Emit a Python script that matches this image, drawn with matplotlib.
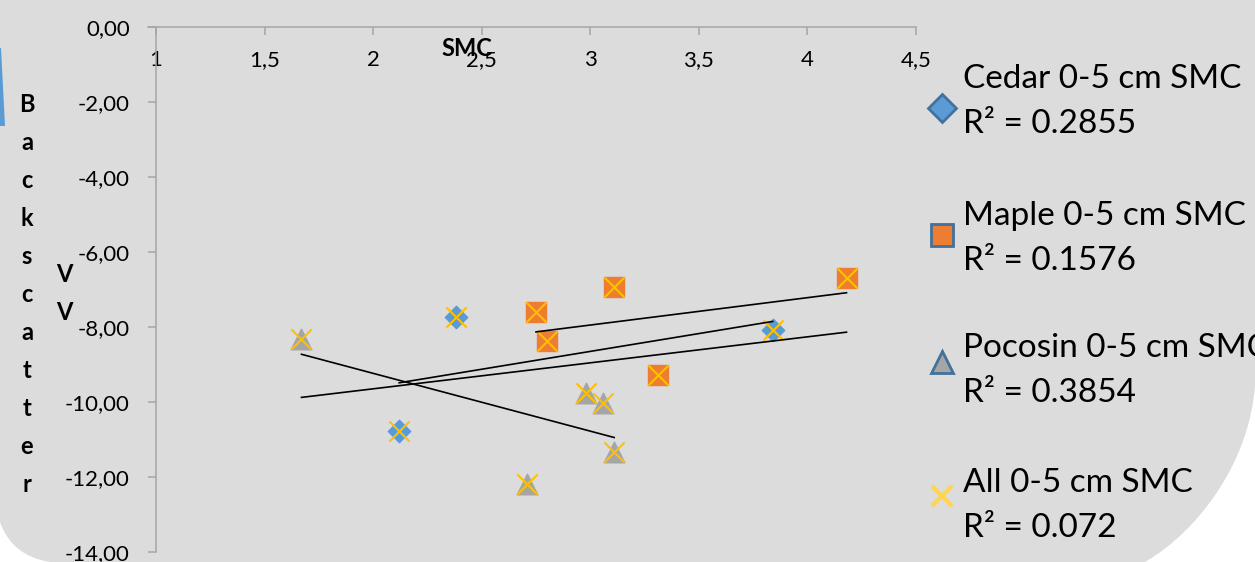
"""
Backscatter VV vs. 0-5 cm SMC scatter with linear trendlines per site.
"""

import numpy as np
import matplotlib
matplotlib.use('Agg')
import matplotlib.pyplot as plt
from matplotlib.path import Path
from matplotlib.patches import PathPatch, Polygon
from matplotlib.lines import Line2D

plt.rcParams['font.family'] = ['Lato', 'DejaVu Sans']

# --- data -------------------------------------------------------------
cedar_smc = [2.12, 2.38, 3.84]
cedar_vv = [-10.77, -7.73, -8.08]

maple_smc = [2.75, 2.80, 3.11, 3.31, 4.18]
maple_vv = [-7.61, -8.37, -6.94, -9.28, -6.70]

pocosin_smc = [1.67, 2.71, 2.98, 3.06, 3.11]
pocosin_vv = [-8.33, -12.19, -9.75, -10.02, -11.33]

legend_names = ['Cedar 0-5 cm SMC', 'Maple 0-5 cm SMC',
                'Pocosin 0-5 cm SMC', 'All 0-5 cm SMC']
legend_r2 = ['0.2855', '0.1576', '0.3854', '0.072']

xticks = [1, 1.5, 2, 2.5, 3, 3.5, 4, 4.5]
xtick_labels = ['1', '1,5', '2', '2,5', '3', '3,5', '4', '4,5']
yticks = [0, -2, -4, -6, -8, -10, -12, -14]
ytick_labels = ['0,00', '-2,00', '-4,00', '-6,00', '-8,00', '-10,00', '-12,00', '-14,00']

all_smc = cedar_smc + maple_smc + pocosin_smc
all_vv = cedar_vv + maple_vv + pocosin_vv

# --- figure -----------------------------------------------------------
W, H = 1255, 562
fig = plt.figure(figsize=(W / 100, H / 100), dpi=100, facecolor='white')


def px(x, y):
    """pixel (from top-left) -> figure fraction"""
    return (x / W, 1 - y / H)


# grey backdrop with rounded lower corners
bg_verts = [px(0, 0), px(W, 0), px(W, 385),
            px(1250, 460), px(1200, 530), px(1145, H),
            px(50, H),
            px(25, 558), px(8, 545), px(0, 522),
            px(0, 0)]
bg_codes = [Path.MOVETO, Path.LINETO, Path.LINETO,
            Path.CURVE4, Path.CURVE4, Path.CURVE4,
            Path.LINETO,
            Path.CURVE4, Path.CURVE4, Path.CURVE4,
            Path.CLOSEPOLY]
fig.add_artist(PathPatch(Path(bg_verts, bg_codes), transform=fig.transFigure,
                         facecolor='#dcdcdc', edgecolor='none', zorder=0))
# blue sliver at the left edge
fig.add_artist(Polygon([px(0, 48), px(1, 48), px(5, 126), px(0, 126)],
                       closed=True, transform=fig.transFigure,
                       facecolor='#5b9bd5', edgecolor='none', zorder=1))

ax = fig.add_axes([156 / W, 10 / H, 760 / W, 525 / H])
ax.set_facecolor('none')

c_blue, c_orange, c_grey, c_yellow = '#5b9bd5', '#ed7d31', '#a5a5a5', '#ffc000'
edge_blue = '#41719c'

ax.scatter(cedar_smc, cedar_vv, marker='D', s=130, color=c_blue, zorder=3)
ax.scatter(maple_smc, maple_vv, marker='s', s=200, color=c_orange, zorder=3)
ax.scatter(pocosin_smc, pocosin_vv, marker='^', s=220, color=c_grey, zorder=3)
ax.scatter(all_smc, all_vv, marker='x', s=210, color=c_yellow, linewidths=1.5, zorder=4)

# linear trendlines over each series' x-range
for xs, ys in [(cedar_smc, cedar_vv), (maple_smc, maple_vv),
               (pocosin_smc, pocosin_vv), (all_smc, all_vv)]:
    k, b = np.polyfit(xs, ys, 1)
    xx = np.array([min(xs), max(xs)])
    ax.plot(xx, k * xx + b, color='black', lw=1.2, zorder=5)

ax.set_xlim(1, 4.5)
ax.set_ylim(-14, 0)
ax.set_xticks(xticks)
ax.set_xticklabels(xtick_labels)
ax.set_yticks(yticks)
ax.set_yticklabels(ytick_labels)

spine_c = '#a6a6a6'
for side in ['right', 'top']:
    ax.spines[side].set_visible(False)
ax.spines['bottom'].set_position(('data', 0))
ax.spines['bottom'].set_color(spine_c)
ax.spines['left'].set_color(spine_c)
ax.spines['bottom'].set_linewidth(1.1)
ax.spines['left'].set_linewidth(1.1)
ax.spines['bottom'].set_bounds(0.965, 4.5)
ax.tick_params(axis='x', direction='out', length=5.8, width=1.1, color=spine_c,
               labelsize=16, pad=11)
ax.tick_params(axis='y', direction='out', length=5.8, width=1.1, color=spine_c,
               labelsize=16, pad=13)

# axis titles
fig.text(*px(467, 48), 'SMC', fontsize=17, fontweight='bold', ha='center', va='center')
for i, ch in enumerate('Backscatter'):
    fig.text(*px(27, 112 + 38 * i), ch, fontsize=17, fontweight='bold',
             ha='center', va='baseline')
for i, ch in enumerate('VV'):
    fig.text(*px(64, 282 + 38 * i), ch, fontsize=17, fontweight='bold',
             ha='center', va='baseline')

# legend, built by hand
leg_markers = [dict(marker='D', markersize=14, markerfacecolor=c_blue,
                    markeredgecolor=edge_blue, markeredgewidth=2),
               dict(marker='s', markersize=16, markerfacecolor=c_orange,
                    markeredgecolor=edge_blue, markeredgewidth=2),
               dict(marker='^', markersize=16, markerfacecolor=c_grey,
                    markeredgecolor=edge_blue, markeredgewidth=2),
               dict(marker='x', markersize=15, markeredgecolor='#ffd54f',
                    markeredgewidth=3)]
marker_y = [108, 235, 362, 496]
base_y = [88, 225, 357, 492]
for name, r2, mk, my, by in zip(legend_names, legend_r2, leg_markers, marker_y, base_y):
    fig.add_artist(Line2D([942 / W], [1 - my / H], transform=fig.transFigure,
                          linestyle='none', **mk))
    fig.text(*px(963, by), name, fontsize=24, va='baseline', ha='left')
    fig.text(*px(963, by + 45), 'R\u00b2 = ' + r2, fontsize=24, va='baseline', ha='left')

fig.savefig('out.png', dpi=100, facecolor=fig.get_facecolor())
